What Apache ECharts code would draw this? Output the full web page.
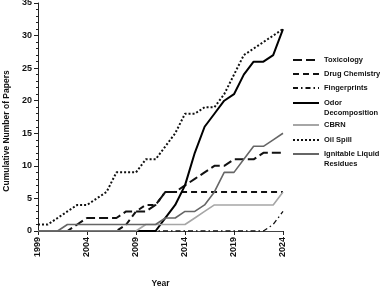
<!DOCTYPE html>
<html>
<head>
<meta charset="utf-8">
<script src="https://cdn.jsdelivr.net/npm/echarts@6/dist/echarts.min.js"></script>
<style>
  html, body { margin: 0; padding: 0; background: #fff; }
  #chart { width: 380px; height: 287px; }
</style>
</head>
<body>
<div id="chart"></div>
<script>
// years on the x axis
const years = ['1999', '2000', '2001', '2002', '2003', '2004', '2005', '2006', '2007', '2008',
  '2009', '2010', '2011', '2012', '2013', '2014', '2015', '2016', '2017', '2018',
  '2019', '2020', '2021', '2022', '2023', '2024']

// cumulative number of papers per year
const toxicology = [0, 0, 0, 0, 1, 2, 2, 2, 2, 3, 3, 3, 4, 6, 6, 7, 8, 9, 10, 10, 11, 11, 11, 12, 12, 12]
const drugChemistry = [0, 0, 0, 0, 0, 0, 0, 0, 0, 1, 3, 4, 4, 6, 6, 6, 6, 6, 6, 6, 6, 6, 6, 6, 6, 6]
const fingerprints = [0, 0, 0, 0, 0, 0, 0, 0, 0, 0, 0, 0, 0, 0, 0, 0, 0, 0, 0, 0, 0, 0, 0, 0, 1, 3]
const odorDecomposition = [0, 0, 0, 0, 0, 0, 0, 0, 0, 0, 0, 0, 0, 2, 4, 7, 12, 16, 18, 20, 21, 24, 26, 26, 27, 31]
const cbrn = [0, 0, 0, 0, 0, 0, 0, 0, 0, 0, 0, 1, 1, 1, 1, 1, 2, 3, 4, 4, 4, 4, 4, 4, 4, 6]
const oilSpill = [1, 1, 2, 3, 4, 4, 5, 6, 9, 9, 9, 11, 11, 13, 15, 18, 18, 19, 19, 21, 24, 27, 28, 29, 30, 31]
const ignitableLiquid = [0, 0, 0, 1, 1, 1, 1, 1, 1, 1, 1, 1, 1, 2, 2, 3, 3, 4, 6, 9, 9, 11, 13, 13, 14, 15]

const yTicks = { min: 0, max: 35, interval: 5 }

const font = '"Liberation Sans", Arial, sans-serif'

// series definitions (name, data, style)
const seriesDefs = [
  { name: 'Toxicology', data: toxicology, color: '#111', width: 2, type: [9, 4] },
  { name: 'Drug Chemistry', data: drugChemistry, color: '#111', width: 2, type: [6, 4] },
  { name: 'Fingerprints', data: fingerprints, color: '#111', width: 1.3, type: [5, 3, 1.5, 3] },
  { name: 'Odor Decomposition', data: odorDecomposition, color: '#000', width: 2, type: 'solid' },
  { name: 'CBRN', data: cbrn, color: '#a6a6a6', width: 1.6, type: 'solid' },
  { name: 'Oil Spill', data: oilSpill, color: '#111', width: 2, type: [2, 2] },
  { name: 'Ignitable Liquid Residues', data: ignitableLiquid, color: '#666', width: 1.6, type: 'solid' }
]

// legend labels, wrapped like the original (leading blank line keeps the
// swatch level with the first text line)
const legendLabels = {
  'Odor Decomposition': '\nOdor\nDecomposition',
  'Ignitable Liquid Residues': '\nIgnitable Liquid\nResidues'
}
// vertical centre of each legend row (first text line)
const legendRows = [61, 75, 89, 103, 126, 141, 154]

const chart = echarts.init(document.getElementById('chart'), null, { renderer: 'canvas' })

const legends = seriesDefs.map((s, i) => {
  const twoLines = !!legendLabels[s.name]
  return {
    orient: 'vertical',
    left: 292,
    top: twoLines ? legendRows[i] - 15 : legendRows[i] - 6,
    padding: 0,
    itemWidth: 26,
    itemHeight: 12,
    itemGap: 0,
    itemStyle: { opacity: 0 },
    data: [s.name],
    formatter: name => legendLabels[name] || name,
    textStyle: {
      fontFamily: font,
      fontWeight: 'bold',
      fontSize: 7.5,
      lineHeight: 10,
      color: '#111'
    }
  }
})

const option = {
  animation: false,
  backgroundColor: '#fff',
  grid: {
    left: 38,
    right: 97,
    top: 3,
    bottom: 56,
    outerBoundsMode: 'none',
    containLabel: false
  },
  legend: legends,
  xAxis: {
    type: 'category',
    data: years,
    boundaryGap: false,
    name: 'Year',
    nameLocation: 'middle',
    nameGap: 48,
    nameTextStyle: { fontFamily: font, fontWeight: 'bold', fontSize: 8.5, color: '#111' },
    axisLine: { lineStyle: { color: '#444', width: 1 } },
    axisTick: {
      show: true,
      length: 4,
      interval: (index) => index % 5 === 0,
      lineStyle: { color: '#222' }
    },
    axisLabel: {
      interval: 4,
      rotate: 90,
      margin: 6,
      fontFamily: font,
      fontWeight: 'bold',
      fontSize: 9,
      color: '#111'
    },
    splitLine: { show: false }
  },
  yAxis: {
    type: 'value',
    min: yTicks.min,
    max: yTicks.max,
    interval: yTicks.interval,
    name: 'Cumulative Number of Papers',
    nameLocation: 'middle',
    nameGap: 24,
    nameTextStyle: {
      fontFamily: font,
      fontWeight: 'bold',
      fontSize: 8.5,
      color: '#111',
      padding: [0, 28, 0, 0]
    },
    axisLine: { show: true, lineStyle: { color: '#222', width: 1 } },
    axisTick: { show: true, length: 4, lineStyle: { color: '#222' } },
    minorTick: { show: true, splitNumber: 5, length: 2, lineStyle: { color: '#222' } },
    axisLabel: {
      margin: 6,
      fontFamily: font,
      fontWeight: 'bold',
      fontSize: 9,
      color: '#111'
    },
    splitLine: { show: false }
  },
  series: seriesDefs.map(s => ({
    name: s.name,
    type: 'line',
    data: s.data,
    symbol: 'none',
    lineStyle: { color: s.color, width: s.width, type: s.type },
    itemStyle: { color: s.color },
    emphasis: { disabled: true }
  }))
}

chart.setOption(option)
</script>
</body>
</html>
